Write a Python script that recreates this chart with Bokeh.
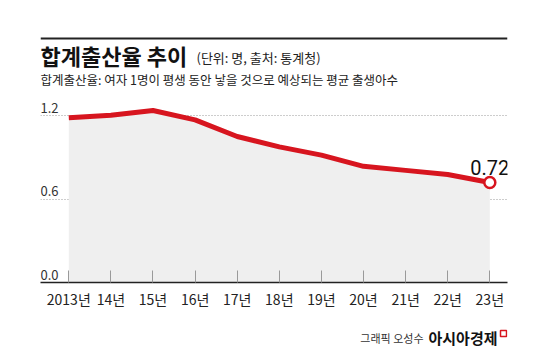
from bokeh.plotting import figure
from bokeh.models import Range1d, FixedTicker, Span
from bokeh.layouts import column
from bokeh.embed import file_html
from bokeh.resources import INLINE
from bokeh.core.properties import value

# ---- data ----
years = [2013, 2014, 2015, 2016, 2017, 2018, 2019, 2020, 2021, 2022, 2023]
tick_labels = ["2013년", "14년", "15년", "16년", "17년", "18년", "19년", "20년", "21년", "22년", "23년"]
rates = [1.187, 1.205, 1.239, 1.172, 1.052, 0.977, 0.918, 0.837, 0.808, 0.778, 0.72]
y_ticks = [0.0, 0.6, 1.2]
y_tick_labels = ["0.0", "0.6", "1.2"]

title_text = "합계출산율 추이"
unit_text = "(단위: 명, 출처: 통계청)"
subtitle_text = "합계출산율: 여자 1명이 평생 동안 낳을 것으로 예상되는 평균 출생아수"
credit_text = "그래픽 오성수"
brand_text = "아시아경제"

KR = "Noto Sans CJK KR"
RED = "#d7151f"

W = 550
H_MAIN, H_CREDIT = 316, 40
LEFT, RIGHT, BOTTOM = 40, 43, 34
FRAME_H = H_MAIN - BOTTOM
X0, X1 = 2012.328, 2023.42
Y0, Y1 = 0.0, 2.032

p = figure(width=W, height=H_MAIN, x_range=Range1d(X0, X1), y_range=Range1d(Y0, Y1),
           output_backend="svg", toolbar_location=None, y_axis_location=None,
           min_border_left=LEFT, min_border_right=RIGHT, min_border_top=0,
           min_border_bottom=BOTTOM, outline_line_color=None,
           background_fill_color="white", border_fill_color="white")


def x_of(px):
    return X0 + (px - LEFT) * (X1 - X0) / (W - LEFT - RIGHT)


def y_of(py):
    return Y1 - py * (Y1 - Y0) / FRAME_H


# grid
p.xgrid.visible = False
p.ygrid.ticker = FixedTicker(ticks=[t for t in y_ticks if t > 0])
p.ygrid.grid_line_color = "#9a9a9a"
p.ygrid.grid_line_dash = "1 2"
p.ygrid.grid_line_width = 1

# x axis
ax = p.xaxis[0]
ax.ticker = FixedTicker(ticks=years)
ax.major_label_overrides = {y: l for y, l in zip(years, tick_labels)}
ax.axis_line_color = "#222222"
ax.axis_line_width = 1.5
ax.major_tick_in = 12
ax.major_tick_out = 0
ax.major_tick_line_color = "#9a9a9a"
ax.major_tick_line_width = 1
ax.minor_tick_line_color = None
ax.major_label_text_font = KR
ax.major_label_text_font_size = "14px"
ax.major_label_text_color = "#222222"
ax.major_label_standoff = 6

# data marks
p.varea(x=years, y1=[0] * len(years), y2=rates, fill_color="#efefef")
p.line(years, rates, line_color=RED, line_width=5)
p.scatter(x=[years[-1]], y=[rates[-1]], size=11, fill_color="white",
          line_color=RED, line_width=2.5)
p.text(x=[years[-1]], y=[rates[-1]], text=[f"{rates[-1]:.2f}"],
       text_align="center", text_baseline="bottom", y_offset=-8,
       text_font=value("Roboto"), text_font_size="20px",
       text_color="#111111")

# y labels
p.text(x=[X0] * len(y_ticks), y=y_ticks, text=y_tick_labels,
       text_align="left", text_baseline="bottom", y_offset=-3,
       text_font=value(KR), text_font_size="13px", text_color="#333333")

# header
p.add_layout(Span(location=y_of(38), dimension="width", line_color="#222222", line_width=2))
p.text(x=[x_of(40)], y=[y_of(54)], text=[title_text], text_align="left",
       text_baseline="middle", text_font=value(KR), text_font_style="bold",
       text_font_size="22px", text_color="#111111")
p.text(x=[x_of(196)], y=[y_of(57)], text=[unit_text], text_align="left",
       text_baseline="middle", text_font=value(KR), text_font_size="13px",
       text_color="#222222")
p.text(x=[x_of(40)], y=[y_of(79)], text=[subtitle_text], text_align="left",
       text_baseline="middle", text_font=value(KR), text_font_size="12.5px",
       text_color="#222222")

# credit strip (frame aligned with the chart frame: page pixels LEFT..W-RIGHT)
c = figure(width=W, height=H_CREDIT, x_range=Range1d(LEFT, W - RIGHT),
           y_range=Range1d(0, H_CREDIT),
           output_backend="svg", toolbar_location=None, x_axis_location=None,
           y_axis_location=None, min_border_left=LEFT, min_border_right=RIGHT,
           min_border_top=0, min_border_bottom=0, outline_line_color=None,
           background_fill_color="white", border_fill_color="white")
c.xgrid.visible = False
c.ygrid.visible = False
c.text(x=[497], y=[H_CREDIT - 21], text=[brand_text], text_align="right",
       text_baseline="middle", text_font=value(KR), text_font_style="bold",
       text_font_size="15px", text_color="#111111")
c.text(x=[423], y=[H_CREDIT - 21], text=[credit_text], text_align="right",
       text_baseline="middle", text_font=value(KR), text_font_size="11px",
       text_color="#333333")
c.scatter(x=[503], y=[H_CREDIT - 17], marker="square", size=6,
          fill_color=None, line_color=RED, line_width=1.5)

page = column(p, c, spacing=0)
open("out.html", "w").write(file_html(page, INLINE))
